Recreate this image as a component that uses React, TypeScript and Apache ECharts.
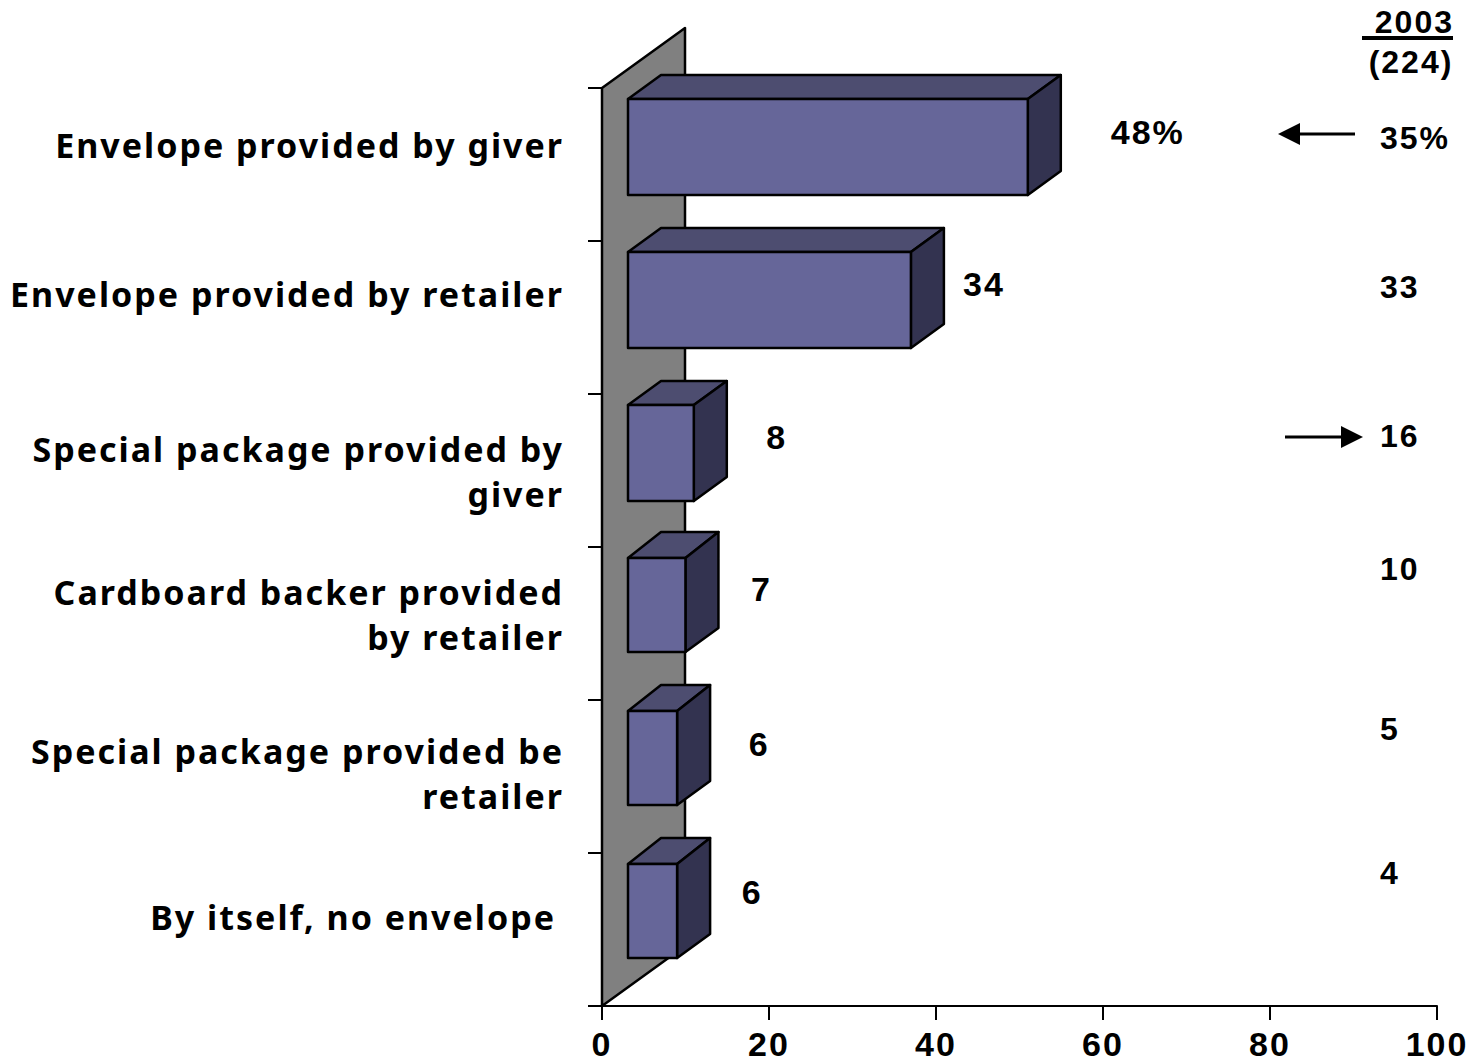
import React, { useEffect, useRef } from "react";
import * as echarts from "echarts";

const categories = [
  "Envelope provided by giver",
  "Envelope provided by retailer",
  "Special package provided by\ngiver",
  "Cardboard backer provided\nby retailer",
  "Special package provided be\nretailer",
  "By itself, no envelope",
];
const shares2005 = [48, 34, 8, 7, 6, 6];
const valueLabels = ["48%", "34", "8", "7", "6", "6"];
const shares2003 = ["35%", "33", "16", "10", "5", "4"];
const xTicks = [0, 20, 40, 60, 80, 100];

const FONT = '"Noto Sans", sans-serif';
const NUMBER_FONT = '"Liberation Sans", Arial, sans-serif';

// Hand-placed label adjustments, in pixels (lift: up is positive).
const categoryLift = [20, 24, -1, 9, 3, 13];
const categoryRightInset = [0, 0, 0, 0, 0, 8];
const valueLabelOffset: [number, number][] = [
  [120, -33],
  [73, -34],
  [83, -34],
  [76, -35],
  [82, -33],
  [75, -38],
];
const priorRowY = [138, 287, 436, 569, 729, 873];

// Projection of the 3D box
const DEPTH_X = 33;
const DEPTH_Y = 24;
const WALL_X = 83;
const WALL_Y = 60;
const BAR_START = 26;
const BAR_END_TRIM = 1;
const BAR_TOP_INSET = 11;
const boxHeight = [96, 96, 96, 94, 94, 94];
const topDepth = [24, 24, 24, 26, 26, 26];

const FRONT = "#666699";
const TOP = "#4d4d70";
const SIDE = "#333350";
const WALL = "#808080";
const LINE = { stroke: "#000", lineWidth: 2.5, lineJoin: "round" };

function renderWall(_params: any, api: any) {
  const [x0, bottom] = api.coord([0, 5]);
  const band = api.size([0, 1])[1];
  const yBottom = bottom + band / 2;
  const yTop = yBottom - band * 6;
  return {
    type: "polygon",
    shape: {
      points: [
        [x0, yTop],
        [x0 + WALL_X, yTop - WALL_Y],
        [x0 + WALL_X, yBottom - WALL_Y],
        [x0, yBottom],
      ],
    },
    style: { fill: WALL, ...LINE },
  };
}

function renderBox(params: any, api: any) {
  const index = params.dataIndex;
  const [xEnd0, yc] = api.coord([api.value(0), index]);
  const band = api.size([0, 1])[1];
  const axisX = api.coord([0, index])[0];
  const left = axisX + BAR_START;
  const right = xEnd0 + BAR_START - BAR_END_TRIM;
  const top = yc - band / 2 + BAR_TOP_INSET;
  const bottom = top + boxHeight[index];
  const backTop = top - topDepth[index];
  const [dx, dy] = valueLabelOffset[index];
  return {
    type: "group",
    children: [
      {
        type: "polygon",
        shape: {
          points: [
            [left, top],
            [left + DEPTH_X, backTop],
            [right + DEPTH_X, backTop],
            [right, top],
          ],
        },
        style: { fill: TOP, ...LINE },
      },
      {
        type: "polygon",
        shape: {
          points: [
            [right, top],
            [right + DEPTH_X, backTop],
            [right + DEPTH_X, bottom - DEPTH_Y],
            [right, bottom],
          ],
        },
        style: { fill: SIDE, ...LINE },
      },
      {
        type: "rect",
        shape: { x: left, y: top, width: right - left, height: bottom - top },
        style: { fill: FRONT, ...LINE },
      },
      {
        type: "text",
        style: {
          text: valueLabels[index],
          x: right + dx,
          y: yc + dy,
          align: "center",
          verticalAlign: "middle",
          fill: "#000",
          font: `bold 34px ${NUMBER_FONT}`,
        },
      },
      {
        type: "text",
        style: {
          text: categories[index],
          x: axisX - 38 - categoryRightInset[index],
          y: yc - categoryLift[index],
          align: "right",
          verticalAlign: "middle",
          lineHeight: 45,
          fill: "#000",
          font: `bold 34px ${FONT}`,
        },
      },
    ],
  };
}

export default function App() {
  const ref = useRef<HTMLDivElement>(null);

  useEffect(() => {
    if (!ref.current) return;
    const chart = echarts.init(ref.current, undefined, { renderer: "svg" });
    const textBase = { fill: "#000", font: `bold 32px ${NUMBER_FONT}` };
    chart.setOption({
      animation: false,
      backgroundColor: "#fff",
      grid: { left: 602, right: 35, top: 88, bottom: 56, containLabel: false },
      xAxis: {
        type: "value",
        min: 0,
        max: 100,
        interval: 20,
        splitLine: { show: false },
        axisLine: { show: true, lineStyle: { color: "#000", width: 2 } },
        axisTick: { show: true, length: 14, lineStyle: { color: "#000", width: 2 } },
        axisLabel: {
          margin: 21,
          color: "#000",
          fontFamily: NUMBER_FONT,
          fontWeight: "bold",
          fontSize: 34,
          customValues: xTicks,
        },
      },
      yAxis: {
        type: "category",
        inverse: true,
        data: categories,
        axisLine: { show: true, lineStyle: { color: "#000", width: 2 } },
        axisTick: { show: true, length: 14, lineStyle: { color: "#000", width: 2 } },
        axisLabel: { show: false },
      },
      series: [
        {
          type: "custom",
          name: "wall",
          z: 1,
          silent: true,
          renderItem: renderWall,
          data: [[0, 0]],
          encode: { x: 0 },
        },
        {
          type: "custom",
          name: "2005",
          z: 3,
          silent: true,
          renderItem: renderBox,
          data: shares2005.map((v, i) => [v, i]),
          encode: { x: 0, y: 1 },
        },
      ],
      graphic: [
        { type: "text", style: { ...textBase, text: "2003", x: 1454, y: 22, align: "right", verticalAlign: "middle" } },
        { type: "rect", shape: { x: 1362, y: 36, width: 91, height: 4 }, style: { fill: "#000" } },
        { type: "text", style: { ...textBase, text: "(224)", x: 1411, y: 62, align: "center", verticalAlign: "middle" } },
        ...shares2003.map((text, i) => ({
          type: "text",
          style: { ...textBase, text, x: 1380, y: priorRowY[i], verticalAlign: "middle" },
        })),
        // Change-since-2003 arrows
        { type: "line", shape: { x1: 1355, y1: 134, x2: 1296, y2: 134 }, style: { stroke: "#000", lineWidth: 3 } },
        { type: "polygon", shape: { points: [[1278, 134], [1300, 123], [1300, 145]] }, style: { fill: "#000" } },
        { type: "line", shape: { x1: 1285, y1: 437, x2: 1345, y2: 437 }, style: { stroke: "#000", lineWidth: 3 } },
        { type: "polygon", shape: { points: [[1363, 437], [1341, 426], [1341, 448]] }, style: { fill: "#000" } },
      ],
    });
    return () => chart.dispose();
  }, []);

  return (
    <div
      ref={ref}
      style={{ position: "absolute", left: 0, top: 0, width: 1472, height: 1062, letterSpacing: "2px" }}
    />
  );
}
